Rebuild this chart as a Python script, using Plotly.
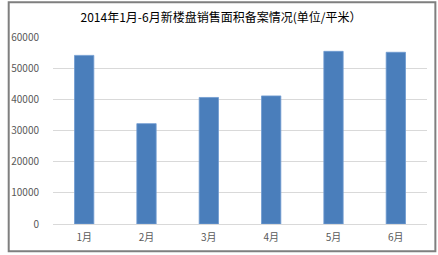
import plotly.graph_objects as go

categories = ["1月", "2月", "3月", "4月", "5月", "6月"]
values = [54100, 32200, 40600, 41100, 55400, 55100]
y_ticks = [0, 10000, 20000, 30000, 40000, 50000, 60000]
y_tick_labels = ["0", "10000", "20000", "30000", "40000", "50000", "60000"]
title_text = "2014年1月-6月新楼盘销售面积备案情况(单位/平米）"

W, H = 438, 255
L, R, T, B = 47, 11, 37, 30
pw, ph = W - L - R, H - T - B

def px(x):
    return (x - L) / pw

def py(y):
    return (H - B - y) / ph

fig = go.Figure(go.Bar(
    x=categories, y=values,
    marker=dict(color="#4A7EBB", line=dict(color="#6E9AD0", width=0.8)),
    width=0.31,
))

fig.update_layout(
    width=W, height=H,
    margin=dict(l=L, r=R, t=T, b=B),
    paper_bgcolor="white", plot_bgcolor="white",
    showlegend=False,
    font=dict(family="Noto Sans CJK SC, sans-serif", color="#595959", size=10),
    title=dict(text=title_text, xref="container", x=221 / W, xanchor="center",
               yref="container", y=1 - 18 / H, yanchor="middle",
               font=dict(size=12, color="#000000", family="Noto Sans CJK SC")),
    xaxis=dict(showgrid=False, showline=True, linecolor="#D9D9D9", linewidth=1,
               ticks="", tickfont=dict(size=10, color="#595959"), ticklabelstandoff=4),
    yaxis=dict(range=[0, 60000], tickvals=y_ticks, ticktext=y_tick_labels,
               showgrid=True, gridcolor="#D9D9D9",
               gridwidth=1, zeroline=False, showline=False, ticks="",
               tickfont=dict(size=10, color="#595959"), ticklabelstandoff=13),
    shapes=[dict(type="rect", xref="paper", yref="paper",
                 x0=px(2), x1=px(435.5), y0=py(2), y1=py(252.5),
                 line=dict(color="#7F7F7F", width=2), layer="above")],
)

fig.write_html("out.html")
